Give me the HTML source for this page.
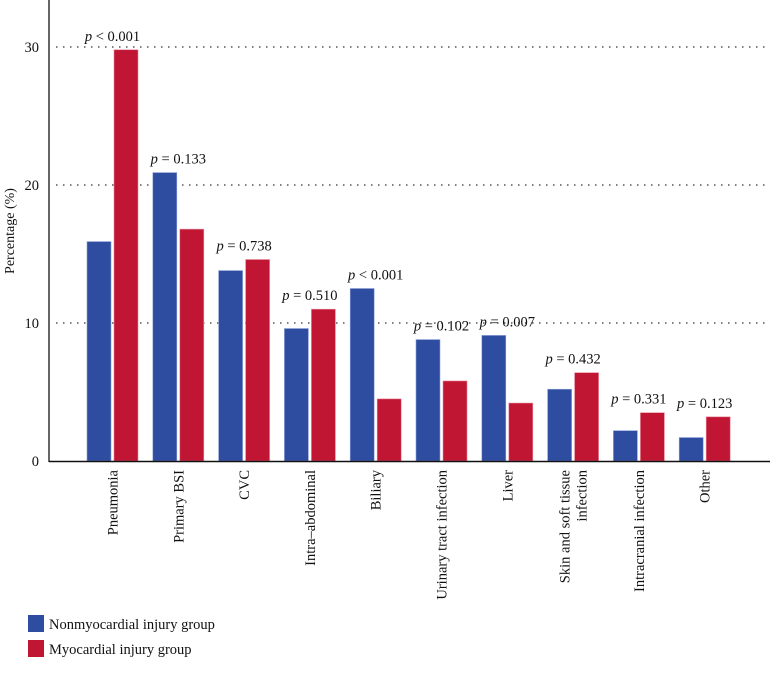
<!DOCTYPE html>
<html><head><meta charset="utf-8"><style>
body{margin:0;background:#fff;}
svg text{font-family:"Liberation Serif",serif;fill:#111;}
</style></head><body>
<svg width="770" height="682">
<g id="grid"></g><g id="bars"></g><g id="labels"></g>
<line x1="49" y1="0" x2="49" y2="462" stroke="#333" stroke-width="1.5"/>
<line x1="49" y1="461.5" x2="770" y2="461.5" stroke="#111" stroke-width="1.5"/>
<text transform="translate(14,231) rotate(-90)" text-anchor="middle" font-size="14">Percentage (%)</text>
<rect x="28" y="615" width="16" height="17" fill="#2e4da0"/>
<text x="49" y="629" font-size="14.5">Nonmyocardial injury group</text>
<rect x="28" y="640" width="16" height="17" fill="#c01634"/>
<text x="49" y="654" font-size="14.5">Myocardial injury group</text>
</svg>
<script>
const categories=["Pneumonia","Primary BSI","CVC","Intra\u2013abdominal","Biliary","Urinary tract infection","Liver","Skin and soft tissue|infection","Intracranial infection","Other"];
const nonmyo=[15.9,20.9,13.8,9.6,12.5,8.8,9.1,5.2,2.2,1.7];
const myo=[29.8,16.8,14.6,11.0,4.5,5.8,4.2,6.4,3.5,3.2];
const pvals=["< 0.001","= 0.133","= 0.738","= 0.510","< 0.001","= 0.102","= 0.007","= 0.432","= 0.331","= 0.123"];
const yTicks=[0,10,20,30];
const NS="http://www.w3.org/2000/svg";
const y=v=>461-v*13.8;
const xc=i=>112.5+i*65.8;
function mk(t,a,p){const e=document.createElementNS(NS,t);for(const k in a)e.setAttribute(k,a[k]);p.appendChild(e);return e;}
const g=document.getElementById('grid'),b=document.getElementById('bars'),l=document.getElementById('labels');
yTicks.forEach(t=>{
 const tx=mk('text',{x:39,y:y(t)+5,'text-anchor':'end','font-size':'14.5'},l);tx.textContent=t;
 
 
 if(t>0){const ln=mk('line',{x1:56,x2:768,y1:y(t),y2:y(t),stroke:'#333','stroke-width':1.2,'stroke-dasharray':'1.5,5.5'},g);
 
 }
});
categories.forEach((c,i)=>{
 const cx=xc(i);
 const r1=mk('rect',{x:cx-25.5,y:y(nonmyo[i]),width:24,height:nonmyo[i]*13.8,fill:'#2e4da0',stroke:'#8fa0d8','stroke-width':0.6},b);
 
 
 const r2=mk('rect',{x:cx+1.5,y:y(myo[i]),width:24,height:myo[i]*13.8,fill:'#c01634',stroke:'#e88a9a','stroke-width':0.6},b);
 
 
 const top=Math.max(nonmyo[i],myo[i]);
 const pt=mk('text',{x:cx,y:y(top)-9,'text-anchor':'middle','font-size':'14.5'},l);
 pt.innerHTML='<tspan font-style="italic">p</tspan> '+pvals[i].replace('<','&lt;');
 
 
 const parts=c.split('|');
 parts.forEach((s,j)=>{
  const off=(j-(parts.length-1)/2)*17;
  const t=mk('text',{transform:`translate(${cx+5+off},470) rotate(-90)`,'text-anchor':'end','font-size':'14.5'},l);
  t.textContent=s;
  
  
 });
});
</script>
</body></html>
